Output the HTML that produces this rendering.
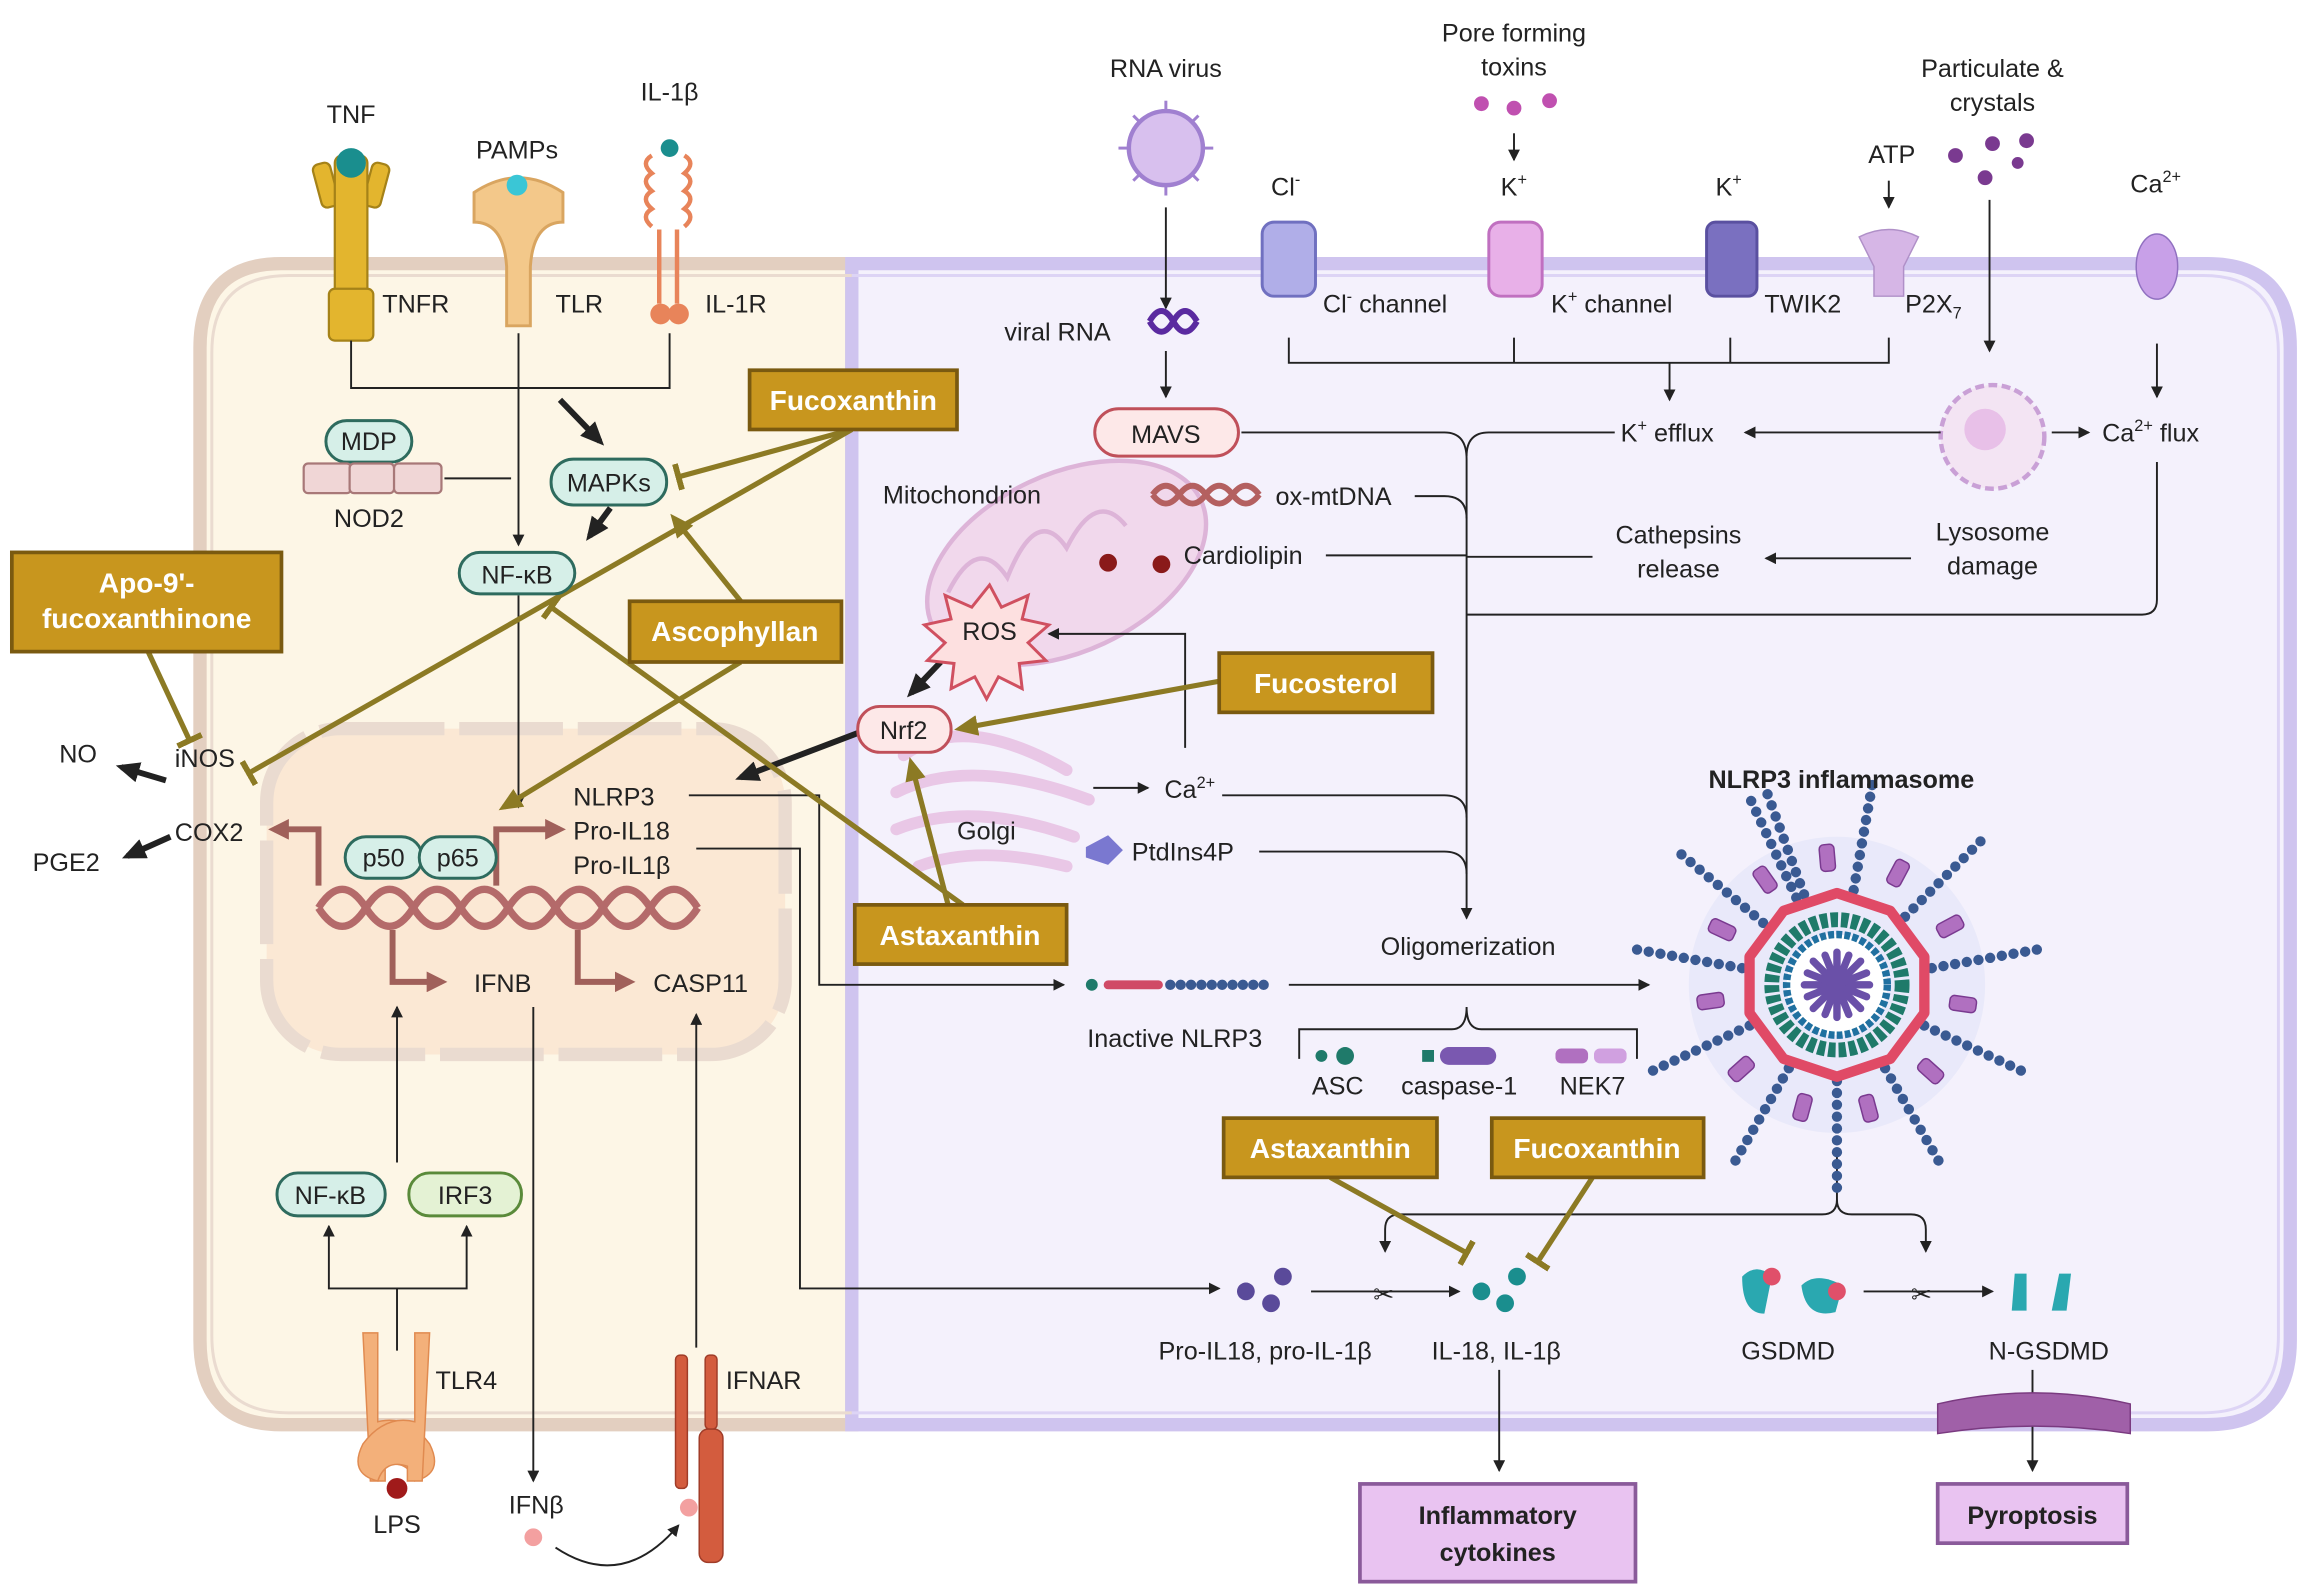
<!DOCTYPE html>
<html><head><meta charset="utf-8"><style>
html,body{margin:0;padding:0;background:#fff}
svg{display:block}
text{font-family:"Liberation Sans",sans-serif;font-size:17px;fill:#222}
.g text{fill:#fff;font-weight:bold;font-size:19px}
.b{font-weight:bold}
</style></head><body>
<svg width="2311" height="1595" viewBox="0 0 1560 1077" preserveAspectRatio="none" xmlns="http://www.w3.org/2000/svg">
<defs>
<marker id="ak" markerWidth="8" markerHeight="8" refX="7" refY="4" orient="auto" markerUnits="userSpaceOnUse"><path d="M0,0 L8,4 L0,8z" fill="#222"/></marker>
<marker id="akb" markerWidth="16" markerHeight="14" refX="12" refY="7" orient="auto" markerUnits="userSpaceOnUse"><path d="M0,0 L16,7 L0,14z" fill="#222"/></marker>
<marker id="ag" markerWidth="16" markerHeight="14" refX="12" refY="7" orient="auto" markerUnits="userSpaceOnUse"><path d="M0,0 L16,7 L0,14z" fill="#8c7a24"/></marker>
<marker id="tg" markerWidth="4" markerHeight="18" refX="2" refY="9" orient="auto" markerUnits="userSpaceOnUse"><rect x="0" y="0" width="4" height="18" fill="#8c7a24"/></marker>
<marker id="ab" markerWidth="14" markerHeight="14" refX="10" refY="7" orient="auto" markerUnits="userSpaceOnUse"><path d="M0,0 L14,7 L0,14z" fill="#a0605a"/></marker>
</defs>
<path d="M575,178 L190,178 Q135,178 135,235 L135,905 Q135,962 190,962 L575,962z" fill="#fdf6e6" stroke="#e3cfc0" stroke-width="9"/>
<path d="M575,178 L1490,178 Q1546,178 1546,235 L1546,905 Q1546,962 1490,962 L575,962z" fill="#f4f1fc" stroke="#cfc4ef" stroke-width="9"/>
<path d="M575,186 L195,186 Q143,186 143,238 L143,902 Q143,954 195,954 L575,954" fill="none" stroke="#eadbd0" stroke-width="2"/>
<path d="M575,186 L1487,186 Q1538,186 1538,238 L1538,902 Q1538,954 1487,954 L575,954" fill="none" stroke="#ddd4f5" stroke-width="2"/>
<rect x="180" y="492" width="350" height="220" rx="50" fill="#fbe8d4" stroke="#eadbd0" stroke-width="9" stroke-dasharray="70 10"/>
<ellipse cx="720" cy="380" rx="100" ry="60" transform="rotate(-25 720 380)" fill="#f1d8ec" stroke="#ddb4d8" stroke-width="3"/>
<path d="M640,400 q20,-40 40,-10 q20,-50 40,-20 q20,-40 40,-15" fill="none" stroke="#ddb4d8" stroke-width="3"/>
<g fill="none" stroke="#e9c7e6" stroke-width="8" stroke-linecap="round">
<path d="M610,510 q40,-30 110,10"/><path d="M605,535 q50,-25 130,5"/><path d="M605,560 q50,-20 120,5"/><path d="M620,585 q40,-15 100,0"/></g>
<g fill="#e3b52e" stroke="#a58218" stroke-width="1.5">
<rect x="214" y="110" width="12" height="30" rx="4" transform="rotate(-15 220 125)"/><rect x="248" y="110" width="12" height="30" rx="4" transform="rotate(15 254 125)"/>
<rect x="226" y="105" width="22" height="120" rx="5"/><rect x="222" y="195" width="30" height="35" rx="4"/></g>
<circle cx="237" cy="110" r="10" fill="#1a8e8e"/>
<path d="M320,130 q30,-20 60,0 l0,20 q-20,0 -22,30 l0,40 l-16,0 l0,-40 q-2,-30 -22,-30z" fill="#f3c88a" stroke="#d9a560" stroke-width="2"/>
<circle cx="349" cy="125" r="7" fill="#3ac6d6"/>
<g fill="none" stroke="#e8845a" stroke-width="3"><path d="M440,105 q-8,5 0,12 q-8,5 0,12 q-8,5 0,12 q-8,5 0,12"/><path d="M462,105 q8,5 0,12 q8,5 0,12 q8,5 0,12 q8,5 0,12"/><line x1="445" y1="155" x2="445" y2="205"/><line x1="457" y1="155" x2="457" y2="205"/></g>
<circle cx="452" cy="100" r="6" fill="#1a8e8e"/><circle cx="446" cy="212" r="7" fill="#e8845a"/><circle cx="458" cy="212" r="7" fill="#e8845a"/>
<path d="M245,900 l10,0 l0,60 q20,-5 35,15 q10,20 -10,25 q-5,-15 -20,-10 l0,10 l-10,0z" fill="#f3b07a" stroke="#e08a50"/>
<path d="M290,900 l-10,0 l0,60 q-20,-5 -35,15 q-10,20 10,25 q5,-15 20,-10 l0,10 l10,0z" fill="#f3b07a" stroke="#e08a50"/>
<circle cx="268" cy="1005" r="7" fill="#a01a1a"/>
<g fill="#d35c3e" stroke="#a03c28"><rect x="456" y="915" width="8" height="90" rx="3"/><rect x="476" y="915" width="8" height="50" rx="3"/><rect x="472" y="965" width="16" height="90" rx="6"/></g>
<circle cx="465" cy="1018" r="6" fill="#f3a0a0"/><circle cx="360" cy="1038" r="6" fill="#f3a0a0"/>
<rect x="852" y="150" width="36" height="50" rx="8" fill="#b0aee8" stroke="#7070c0" stroke-width="2"/>
<rect x="1005" y="150" width="36" height="50" rx="8" fill="#e8b0e8" stroke="#c070c0" stroke-width="2"/>
<rect x="1152" y="150" width="34" height="50" rx="6" fill="#7a70c0" stroke="#5a50a0" stroke-width="2"/>
<path d="M1255,160 q20,-10 40,0 l-10,20 l0,20 l-20,0 l0,-20z" fill="#d6b6e6" stroke="#b090c8"/>
<ellipse cx="1456" cy="180" rx="14" ry="22" fill="#c8a0e8" stroke="#9070c0"/>
<circle cx="787" cy="100" r="25" fill="#d8c0ee" stroke="#a080d0" stroke-width="3"/>
<g stroke="#a080d0" stroke-width="2"><line x1="787" y1="68" x2="787" y2="75"/><line x1="787" y1="125" x2="787" y2="132"/><line x1="755" y1="100" x2="762" y2="100"/><line x1="812" y1="100" x2="819" y2="100"/><line x1="765" y1="78" x2="770" y2="83"/><line x1="809" y1="78" x2="804" y2="83"/><line x1="765" y1="122" x2="770" y2="117"/><line x1="809" y1="122" x2="804" y2="117"/></g>
<g fill="#c050b0"><circle cx="1000" cy="70" r="5"/><circle cx="1022" cy="73" r="5"/><circle cx="1046" cy="68" r="5"/></g>
<g fill="#7a3a90"><circle cx="1320" cy="105" r="5"/><circle cx="1345" cy="97" r="5"/><circle cx="1368" cy="95" r="5"/><circle cx="1340" cy="120" r="5"/><circle cx="1362" cy="110" r="4"/></g>
<circle cx="1345" cy="295" r="35" fill="#f3e4f3" stroke="#c9a0d6" stroke-width="3" stroke-dasharray="6 3"/>
<circle cx="1340" cy="290" r="14" fill="#e8c0e8"/>
<path d="M776,217 q8,-14 16,0 q8,14 16,0" fill="none" stroke="#5a2aa0" stroke-width="4"/><path d="M776,217 q8,14 16,0 q8,-14 16,0" fill="none" stroke="#5a2aa0" stroke-width="4"/>
<path d="M778,334 q9,-12 18,0 q9,12 18,0 q9,-12 18,0 q9,12 18,0" fill="none" stroke="#b46060" stroke-width="4"/>
<path d="M778,334 q9,12 18,0 q9,-12 18,0 q9,12 18,0 q9,-12 18,0" fill="none" stroke="#b46060" stroke-width="4"/>
<circle cx="748" cy="380" r="6" fill="#8a1a1a"/><circle cx="784" cy="381" r="6" fill="#8a1a1a"/>
<path d="M733,572 l15,-8 l10,10 l-10,10 l-15,-5z" fill="#7a78d0"/>
<path d="M215,613 q16,-25 32,0 q16,25 32,0 q16,-25 32,0 q16,25 32,0 q16,-25 32,0 q16,25 32,0 q16,-25 32,0 q16,25 32,0" fill="none" stroke="#b46a6a" stroke-width="5"/>
<path d="M215,613 q16,25 32,0 q16,-25 32,0 q16,25 32,0 q16,-25 32,0 q16,25 32,0 q16,-25 32,0 q16,25 32,0 q16,-25 32,0" fill="none" stroke="#b46a6a" stroke-width="5"/>
<g fill="none" stroke="#a0605a" stroke-width="4">
<path d="M215,598 L215,560 L185,560" marker-end="url(#ab)"/><path d="M335,598 L335,560 L378,560" marker-end="url(#ab)"/>
<path d="M265,628 L265,663 L298,663" marker-end="url(#ab)"/><path d="M390,628 L390,663 L425,663" marker-end="url(#ab)"/></g>
<g fill="none" stroke="#222" stroke-width="1.3">
<path d="M237,230 L237,262 L452,262 L452,225"/>
<path d="M350,225 L350,368" marker-end="url(#ak)"/>
<path d="M300,323 L345,323"/>
<path d="M350,402 L350,545" marker-end="url(#ak)"/>
<path d="M787,140 L787,208" marker-end="url(#ak)"/><path d="M787,237 L787,268" marker-end="url(#ak)"/>
<path d="M838,292 L975,292 Q990,292 990,310 L990,620" marker-end="url(#ak)"/>
<path d="M955,335 L975,335 Q990,335 990,350"/><path d="M895,375 L990,375"/>
<path d="M1075,376 L990,376"/><path d="M1090,292 L1005,292 Q990,292 990,308"/>
<path d="M1456,312 L1456,405 Q1456,415 1446,415 L990,415"/>
<path d="M825,537 L975,537 Q990,537 990,552"/><path d="M850,575 L975,575 Q990,575 990,590"/>
<path d="M870,228 L870,245 L1275,245 L1275,228"/><path d="M1022,228 L1022,245"/><path d="M1168,228 L1168,245"/>
<path d="M1127,245 L1127,270" marker-end="url(#ak)"/>
<path d="M1310,292 L1178,292" marker-end="url(#ak)"/><path d="M1385,292 L1410,292" marker-end="url(#ak)"/>
<path d="M1290,377 L1192,377" marker-end="url(#ak)"/>
<path d="M1343,135 L1343,237" marker-end="url(#ak)"/>
<path d="M1456,232 L1456,268" marker-end="url(#ak)"/>
<path d="M1022,90 L1022,108" marker-end="url(#ak)"/><path d="M1275,122 L1275,140" marker-end="url(#ak)"/>
<path d="M800,505 L800,428 L708,428" marker-end="url(#ak)"/>
<path d="M738,532 L775,532" marker-end="url(#ak)"/>
<path d="M465,537 L553,537 L553,665 L718,665" marker-end="url(#ak)"/>
<path d="M470,573 L540,573 L540,870 L823,870" marker-end="url(#ak)"/>
<path d="M870,665 L1113,665" marker-end="url(#ak)"/>
<path d="M877,715 L877,695 L980,695 Q990,695 990,680 Q990,695 1000,695 L1105,695 L1105,715"/>
<path d="M1240,775 L1240,810 Q1240,820 1230,820 L945,820 Q935,820 935,830 L935,845" marker-end="url(#ak)"/>
<path d="M1240,810 Q1240,820 1250,820 L1290,820 Q1300,820 1300,830 L1300,845" marker-end="url(#ak)"/>
<path d="M885,872 L985,872" marker-end="url(#ak)"/><path d="M1258,872 L1345,872" marker-end="url(#ak)"/>
<path d="M1012,925 L1012,993" marker-end="url(#ak)"/><path d="M1372,925 L1372,993" marker-end="url(#ak)"/>
<path d="M268,912 L268,870 L222,870 L222,828" marker-end="url(#ak)"/><path d="M268,870 L315,870 L315,828" marker-end="url(#ak)"/>
<path d="M268,785 L268,680" marker-end="url(#ak)"/>
<path d="M360,680 L360,1000" marker-end="url(#ak)"/>
<path d="M470,910 L470,685" marker-end="url(#ak)"/>
<path d="M375,1045 Q420,1075 458,1030" marker-end="url(#ak)"/>
</g>
<text x="927" y="880" font-size="20">✂</text><text x="1290" y="880" font-size="20">✂</text>
<g stroke="#222" stroke-width="4" fill="none">
<path d="M378,270 L405,298" marker-end="url(#akb)"/><path d="M412,343 L398,362" marker-end="url(#akb)"/>
<path d="M635,447 L615,468" marker-end="url(#akb)"/><path d="M579,495 L500,525" marker-end="url(#akb)"/>
<path d="M112,527 L82,518" marker-end="url(#akb)"/><path d="M115,565 L86,578" marker-end="url(#akb)"/></g>
<g stroke="#8c7a24" stroke-width="3.5" fill="none">
<path d="M575,290 L458,322" marker-end="url(#tg)"/><path d="M575,290 L168,522" marker-end="url(#tg)"/>
<path d="M100,440 L128,500" marker-end="url(#tg)"/>
<path d="M500,406 L455,350" marker-end="url(#ag)"/><path d="M500,447 L340,545" marker-end="url(#ag)"/>
<path d="M650,611 L372,410" marker-end="url(#tg)"/><path d="M640,611 L615,515" marker-end="url(#ag)"/>
<path d="M823,460 L648,492" marker-end="url(#ag)"/>
<path d="M898,795 L990,846" marker-end="url(#tg)"/><path d="M1075,795 L1038,852" marker-end="url(#tg)"/></g>
<path d="M668,395 l8,15 l18,-8 l-4,16 l18,4 l-14,12 l12,12 l-18,2 l2,17 l-16,-8 l-8,15 l-8,-15 l-16,8 l2,-17 l-18,-2 l12,-12 l-14,-12 l18,-4 l-4,-16 l18,8z" fill="#fde0e0" stroke="#d05060" stroke-width="2"/>
<text x="668" y="432" text-anchor="middle">ROS</text>
<g stroke="#2e6b5e" stroke-width="2" fill="#d6efe8">
<rect x="220" y="284" width="58" height="28" rx="14"/><rect x="372" y="310" width="78" height="31" rx="15"/>
<rect x="310" y="373" width="78" height="28" rx="14"/><rect x="233" y="565" width="52" height="28" rx="14"/>
<rect x="283" y="565" width="52" height="28" rx="14"/><rect x="187" y="792" width="73" height="29" rx="14"/></g>
<rect x="276" y="792" width="76" height="29" rx="14" fill="#e4f2d4" stroke="#5a8a3a" stroke-width="2"/>
<g fill="#f0d6d6" stroke="#a87878" stroke-width="1.5"><rect x="205" y="313" width="32" height="20" rx="3"/><rect x="236" y="313" width="30" height="20" rx="3"/><rect x="266" y="313" width="32" height="20" rx="3"/></g>
<g fill="#fde8e8" stroke="#c0505a" stroke-width="2"><rect x="739" y="276" width="97" height="32" rx="16"/><rect x="579" y="477" width="63" height="31" rx="15"/></g>
<g transform="translate(1240,665)">
<circle r="100" fill="#c9d4f2" opacity="0.25"/>
<g stroke="#3a5a92" stroke-width="7" stroke-linecap="round" stroke-dasharray="0 8">
<line x1="0" y1="-65" x2="0" y2="-140" transform="rotate(-20)"/><line x1="0" y1="-65" x2="0" y2="-145" transform="rotate(10)"/>
<line x1="0" y1="-65" x2="0" y2="-140" transform="rotate(45)"/><line x1="0" y1="-65" x2="0" y2="-145" transform="rotate(80)"/>
<line x1="0" y1="-65" x2="0" y2="-140" transform="rotate(115)"/><line x1="0" y1="-65" x2="0" y2="-145" transform="rotate(150)"/>
<line x1="0" y1="-65" x2="0" y2="-140" transform="rotate(180)"/><line x1="0" y1="-65" x2="0" y2="-145" transform="rotate(210)"/>
<line x1="0" y1="-65" x2="0" y2="-140" transform="rotate(245)"/><line x1="0" y1="-65" x2="0" y2="-145" transform="rotate(280)"/>
<line x1="0" y1="-65" x2="0" y2="-140" transform="rotate(310)"/><line x1="0" y1="-65" x2="0" y2="-140" transform="rotate(335)"/></g>
<g fill="#b070c0" stroke="#7a3a90"><rect x="-4" y="-95" width="10" height="18" rx="3" transform="rotate(-5)"/><rect x="-4" y="-95" width="10" height="18" rx="3" transform="rotate(28)"/><rect x="-4" y="-95" width="10" height="18" rx="3" transform="rotate(62)"/><rect x="-4" y="-95" width="10" height="18" rx="3" transform="rotate(98)"/><rect x="-4" y="-95" width="10" height="18" rx="3" transform="rotate(132)"/><rect x="-4" y="-95" width="10" height="18" rx="3" transform="rotate(165)"/><rect x="-4" y="-95" width="10" height="18" rx="3" transform="rotate(195)"/><rect x="-4" y="-95" width="10" height="18" rx="3" transform="rotate(228)"/><rect x="-4" y="-95" width="10" height="18" rx="3" transform="rotate(262)"/><rect x="-4" y="-95" width="10" height="18" rx="3" transform="rotate(295)"/><rect x="-4" y="-95" width="10" height="18" rx="3" transform="rotate(325)"/></g>
<polygon points="0,-62 36,-50 59,-19 59,19 36,50 0,62 -36,50 -59,19 -59,-19 -36,-50" fill="none" stroke="#e04a66" stroke-width="7" stroke-linejoin="round"/>
<circle r="44" fill="none" stroke="#1f7a6a" stroke-width="10" stroke-dasharray="5 2"/>
<circle r="34" fill="#fff" stroke="#2070a0" stroke-width="5" stroke-dasharray="4 1.5"/>
<g stroke="#6a50a8" stroke-width="5" stroke-linecap="round"><line x1="-22" y1="0" x2="22" y2="0"/><line x1="0" y1="-22" x2="0" y2="22"/><line x1="-16" y1="-16" x2="16" y2="16"/><line x1="-16" y1="16" x2="16" y2="-16"/><line x1="-8" y1="-20" x2="8" y2="20"/><line x1="-20" y1="-8" x2="20" y2="8"/><line x1="-20" y1="8" x2="20" y2="-8"/><line x1="-8" y1="20" x2="8" y2="-20"/></g>
</g>
<g fill="#1f7a6a"><circle cx="892" cy="713" r="4"/><circle cx="908" cy="713" r="6"/></g>
<circle cx="737" cy="665" r="4" fill="#1f7a6a"/><rect x="745" y="662" width="40" height="6" rx="3" fill="#d04a66"/>
<line x1="790" y1="665" x2="860" y2="665" stroke="#3a5a92" stroke-width="7" stroke-linecap="round" stroke-dasharray="0 7"/>
<rect x="960" y="709" width="8" height="8" fill="#1f7a6a"/><rect x="972" y="707" width="38" height="12" rx="6" fill="#7a58b0"/>
<rect x="1050" y="708" width="22" height="10" rx="4" fill="#b070c0"/><rect x="1076" y="708" width="22" height="10" rx="4" fill="#d0a0e0"/>
<g fill="#5a4a9a"><circle cx="841" cy="872" r="6"/><circle cx="858" cy="880" r="6"/><circle cx="866" cy="862" r="6"/></g>
<g fill="#1a8e8e"><circle cx="1000" cy="872" r="6"/><circle cx="1016" cy="880" r="6"/><circle cx="1024" cy="862" r="6"/></g>
<g fill="#2aa8b0"><path d="M1176,862 q10,-10 20,0 l-5,25 q-15,0 -15,-25z"/><path d="M1216,868 q10,-10 28,0 l-5,18 q-20,5 -23,-18z"/><path d="M1360,860 l8,0 l0,25 l-10,0z"/><path d="M1390,860 l8,0 l-3,25 l-10,0z"/></g>
<g fill="#e0506a"><circle cx="1196" cy="862" r="6"/><circle cx="1240" cy="872" r="6"/></g>
<path d="M1308,948 q65,-15 130,0 l0,20 q-65,-10 -130,0z" fill="#a060a8" stroke="#7a3a80"/>
<g class="g" stroke="#7a5a10" stroke-width="2.5" fill="#c8961e">
<rect x="506" y="250" width="140" height="40"/><rect x="8" y="373" width="182" height="67"/><rect x="425" y="406" width="143" height="41"/>
<rect x="823" y="441" width="144" height="40"/><rect x="577" y="611" width="143" height="40"/><rect x="826" y="755" width="144" height="40"/><rect x="1007" y="755" width="143" height="40"/></g>
<g class="g">
<text x="576" y="277" text-anchor="middle">Fucoxanthin</text>
<text x="99" y="400" text-anchor="middle">Apo-9'-</text><text x="99" y="424" text-anchor="middle">fucoxanthinone</text>
<text x="496" y="433" text-anchor="middle">Ascophyllan</text><text x="895" y="468" text-anchor="middle">Fucosterol</text>
<text x="648" y="638" text-anchor="middle">Astaxanthin</text><text x="898" y="782" text-anchor="middle">Astaxanthin</text><text x="1078" y="782" text-anchor="middle">Fucoxanthin</text></g>
<rect x="918" y="1002" width="186" height="66" fill="#e9c3f1" stroke="#8a5a9a" stroke-width="2.5"/>
<rect x="1308" y="1002" width="128" height="40" fill="#e9c3f1" stroke="#8a5a9a" stroke-width="2.5"/>
<text x="1011" y="1029" text-anchor="middle" class="b" font-size="19">Inflammatory</text><text x="1011" y="1054" text-anchor="middle" class="b" font-size="19">cytokines</text>
<text x="1372" y="1029" text-anchor="middle" class="b" font-size="19">Pyroptosis</text>
<text x="237" y="83" text-anchor="middle">TNF</text><text x="349" y="107" text-anchor="middle">PAMPs</text><text x="452" y="68" text-anchor="middle">IL-1β</text>
<text x="258" y="211">TNFR</text><text x="375" y="211">TLR</text><text x="476" y="211">IL-1R</text>
<text x="249" y="304" text-anchor="middle">MDP</text><text x="249" y="356" text-anchor="middle">NOD2</text>
<text x="411" y="332" text-anchor="middle">MAPKs</text><text x="349" y="394" text-anchor="middle">NF-κB</text>
<text x="259" y="585" text-anchor="middle">p50</text><text x="309" y="585" text-anchor="middle">p65</text>
<text x="387" y="544">NLRP3</text><text x="387" y="567">Pro-IL18</text><text x="387" y="590">Pro-IL1β</text>
<text x="320" y="670">IFNB</text><text x="441" y="670">CASP11</text>
<text x="40" y="515">NO</text><text x="118" y="518">iNOS</text><text x="118" y="568">COX2</text><text x="22" y="588">PGE2</text>
<text x="223" y="813" text-anchor="middle">NF-κB</text><text x="314" y="813" text-anchor="middle">IRF3</text>
<text x="294" y="938">TLR4</text><text x="268" y="1035" text-anchor="middle">LPS</text><text x="490" y="938">IFNAR</text><text x="362" y="1022" text-anchor="middle">IFNβ</text>
<text x="787" y="52" text-anchor="middle">RNA virus</text><text x="1022" y="28" text-anchor="middle">Pore forming</text><text x="1022" y="51" text-anchor="middle">toxins</text>
<text x="1345" y="52" text-anchor="middle">Particulate &amp;</text><text x="1345" y="75" text-anchor="middle">crystals</text>
<text x="1277" y="110" text-anchor="middle">ATP</text>
<text x="858" y="132">Cl<tspan font-size="11" dy="-7">-</tspan></text><text x="1013" y="132">K<tspan font-size="11" dy="-7">+</tspan></text><text x="1158" y="132">K<tspan font-size="11" dy="-7">+</tspan></text><text x="1438" y="130">Ca<tspan font-size="11" dy="-7">2+</tspan></text>
<text x="893" y="211">Cl<tspan font-size="11" dy="-7">-</tspan><tspan dy="7"> channel</tspan></text><text x="1047" y="211">K<tspan font-size="11" dy="-7">+</tspan><tspan dy="7"> channel</tspan></text>
<text x="1191" y="211">TWIK2</text><text x="1286" y="211">P2X<tspan font-size="11" dy="4">7</tspan></text>
<text x="678" y="230">viral RNA</text><text x="787" y="299" text-anchor="middle">MAVS</text>
<text x="596" y="340">Mitochondrion</text><text x="861" y="341">ox-mtDNA</text><text x="799" y="381">Cardiolipin</text>
<text x="1094" y="298">K<tspan font-size="11" dy="-7">+</tspan><tspan dy="7"> efflux</tspan></text><text x="1419" y="298">Ca<tspan font-size="11" dy="-7">2+</tspan><tspan dy="7"> flux</tspan></text>
<text x="1133" y="367" text-anchor="middle">Cathepsins</text><text x="1133" y="390" text-anchor="middle">release</text>
<text x="1345" y="365" text-anchor="middle">Lysosome</text><text x="1345" y="388" text-anchor="middle">damage</text>
<text x="610" y="499" text-anchor="middle">Nrf2</text>
<text x="786" y="539">Ca<tspan font-size="11" dy="-7">2+</tspan></text><text x="646" y="567">Golgi</text><text x="764" y="581">PtdIns4P</text>
<text x="991" y="645" text-anchor="middle">Oligomerization</text><text x="1243" y="532" text-anchor="middle" class="b">NLRP3 inflammasome</text>
<text x="793" y="707" text-anchor="middle">Inactive NLRP3</text>
<text x="903" y="739" text-anchor="middle">ASC</text><text x="985" y="739" text-anchor="middle">caspase-1</text><text x="1075" y="739" text-anchor="middle">NEK7</text>
<text x="854" y="918" text-anchor="middle">Pro-IL18, pro-IL-1β</text><text x="1010" y="918" text-anchor="middle">IL-18, IL-1β</text>
<text x="1207" y="918" text-anchor="middle">GSDMD</text><text x="1383" y="918" text-anchor="middle">N-GSDMD</text>
</svg>
</body></html>
